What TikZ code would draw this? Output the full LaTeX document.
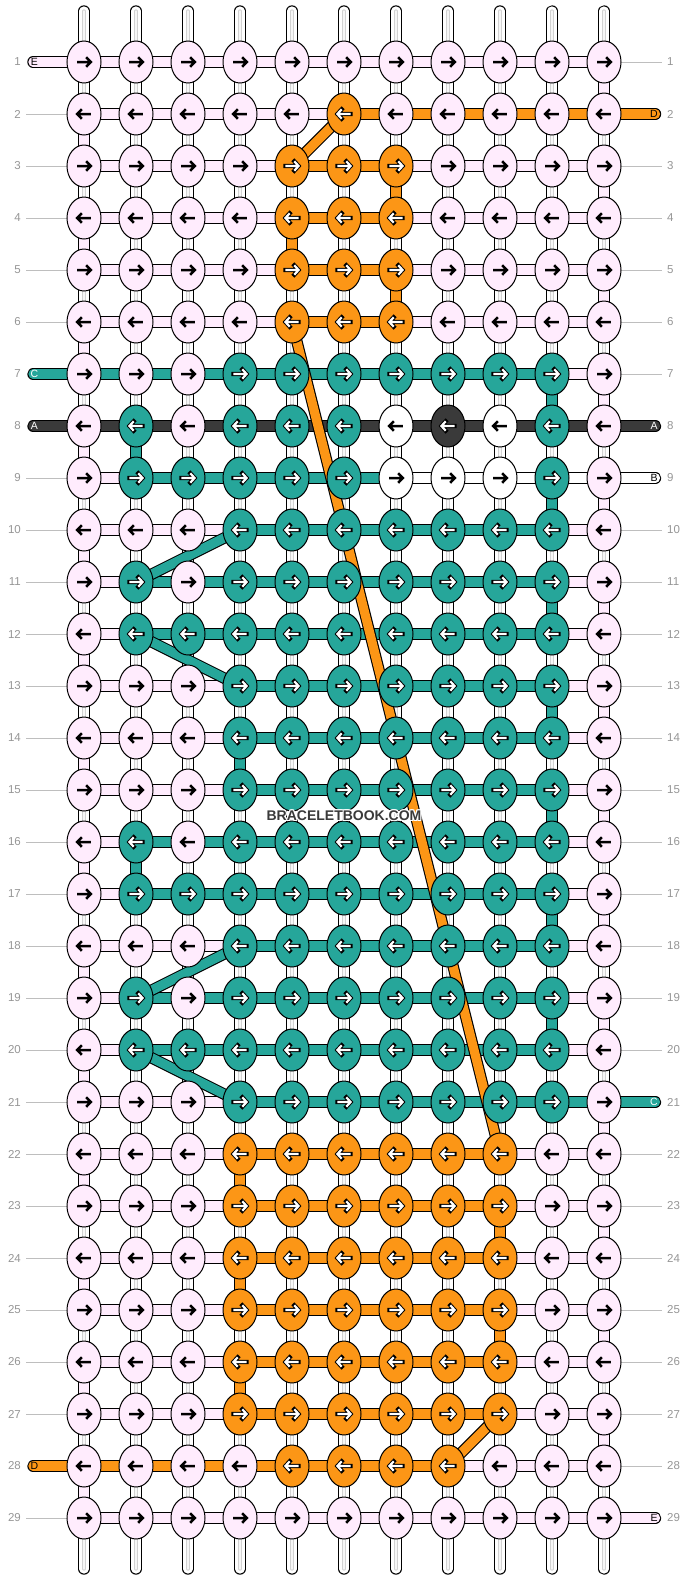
\documentclass[tikz,border=0pt]{standalone}
\usepackage{fontspec}
\setmainfont{Liberation Sans}
\usetikzlibrary{shapes.geometric}
\definecolor{cp}{RGB}{255,236,253}
\definecolor{ct}{RGB}{38,166,154}
\definecolor{co}{RGB}{252,150,22}
\definecolor{ck}{RGB}{58,58,58}
\definecolor{cw}{RGB}{255,255,255}
\definecolor{lbl}{RGB}{150,150,150}
\definecolor{rl}{RGB}{190,190,190}
\pgfdeclarelayer{paper}\pgfdeclarelayer{base}\pgfdeclarelayer{bars}\pgfdeclarelayer{links}
\pgfsetlayers{paper,base,bars,links,main}
\def\atp{0}\def\atw{0}\def\att{1}\def\ato{1}\def\atk{1}
\newcommand\knotarrow[3]{%
 \begin{scope}[shift={(#1.center)}, xscale=#2]
 \ifnum#3=1\relax
  \draw[black, line width=4.2pt, line join=miter, line cap=rect] (-6.6,0) -- (5.5,0) (2.3,-4.7) -- (6.6,0) -- (2.3,4.7);
  \draw[white, line width=2.2pt, line join=miter] (-6.6,0) -- (5.5,0) (2.3,-4.7) -- (6.6,0) -- (2.3,4.7);
 \else
  \draw[black, line width=2.5pt, line join=miter] (-6.8,0) -- (5.5,0) (2.2,-4.8) -- (6.8,0) -- (2.2,4.8);
 \fi
 \end{scope}}
\tikzset{
 knot/.style={ellipse, draw=black, line width=1pt, minimum width=34pt, minimum height=42pt, inner sep=0pt},
 band/.style={draw=black, line width=1.1pt, double=#1, double distance=9.2pt},
 numlab/.style={font=\fontsize{11.5}{12}\selectfont, text=lbl, inner sep=0pt},
 endlab/.style={font=\fontsize{10.5}{11}\selectfont, inner sep=0pt},
 rowline/.style={draw=rl, line width=1pt},
 wm/.style={font=\bfseries\fontsize{14}{14}\selectfont, inner sep=0pt}
}
\begin{document}
\begin{tikzpicture}[x=1pt,y=-1pt]
\useasboundingbox (0,0) rectangle (688,1580);
\begin{pgfonlayer}{paper}
\fill[white] (0,0) rectangle (688,1580);
\end{pgfonlayer}
% base strands
\begin{pgfonlayer}{base}
\foreach \c in {1,...,11} {
 \coordinate (top-\c) at ({84+52*(\c-1)},11);
 \coordinate (bot-\c) at ({84+52*(\c-1)},1569);
 \draw[band=white, line cap=round] (top-\c) -- (bot-\c);
 \draw[gray!35, line width=3.2pt, line cap=round] (top-\c) -- (bot-\c);
 \draw[gray!6, line width=1.3pt, line cap=round] (top-\c) -- (bot-\c);
}
\end{pgfonlayer}
% knots and bars
\foreach \r/\ks/\bs/\zz in {
 1/{p,p,p,p,p,p,p,p,p,p,p}/{p,p,p,p,p,p,p,p,p,p}/x,
 2/{p,p,p,p,p,o,p,p,p,p,p}/{p,p,p,p,p,o,o,o,o,o}/x,
 3/{p,p,p,p,o,o,o,p,p,p,p}/{p,p,p,p,o,o,p,p,p,p}/x,
 4/{p,p,p,p,o,o,o,p,p,p,p}/{p,p,p,p,o,o,p,p,p,p}/x,
 5/{p,p,p,p,o,o,o,p,p,p,p}/{p,p,p,p,o,o,p,p,p,p}/x,
 6/{p,p,p,p,o,o,o,p,p,p,p}/{p,p,p,p,o,o,p,p,p,p}/x,
 7/{p,p,p,t,t,t,t,t,t,t,p}/{t,t,t,t,t,t,t,t,t,p}/x,
 8/{p,t,p,t,t,t,w,k,w,t,p}/{k,k,k,k,k,k,k,k,k,k}/x,
 9/{p,t,t,t,t,t,w,w,w,t,p}/{p,t,t,t,t,t,w,w,w,w}/x,
 10/{p,p,p,t,t,t,t,t,t,t,p}/{p,p,p,t,t,t,t,t,t,p}/x,
 11/{p,t,p,t,t,t,t,t,t,t,p}/{p,t,t,t,t,t,t,t,t,p}/x,
 12/{p,t,t,t,t,t,t,t,t,t,p}/{p,t,t,t,t,t,t,t,t,p}/x,
 13/{p,p,p,t,t,t,t,t,t,t,p}/{p,p,p,t,t,t,t,t,t,p}/x,
 14/{p,p,p,t,t,t,t,t,t,t,p}/{p,p,p,t,t,t,t,t,t,p}/x,
 15/{p,p,p,t,t,t,t,t,t,t,p}/{p,p,p,t,t,t,t,t,t,p}/x,
 16/{p,t,p,t,t,t,t,t,t,t,p}/{p,t,t,t,t,t,t,t,t,p}/x,
 17/{p,t,t,t,t,t,t,t,t,t,p}/{p,t,t,t,t,t,t,t,t,p}/x,
 18/{p,p,p,t,t,t,t,t,t,t,p}/{p,p,p,t,t,t,t,t,t,p}/x,
 19/{p,t,p,t,t,t,t,t,t,t,p}/{p,t,t,t,t,t,t,t,t,p}/x,
 20/{p,t,t,t,t,t,t,t,t,t,p}/{p,t,t,t,t,t,t,t,t,p}/x,
 21/{p,p,p,t,t,t,t,t,t,t,p}/{p,p,p,t,t,t,t,t,t,t}/x,
 22/{p,p,p,o,o,o,o,o,o,p,p}/{p,p,p,o,o,o,o,o,p,p}/x,
 23/{p,p,p,o,o,o,o,o,o,p,p}/{p,p,p,o,o,o,o,o,p,p}/x,
 24/{p,p,p,o,o,o,o,o,o,p,p}/{p,p,p,o,o,o,o,o,p,p}/x,
 25/{p,p,p,o,o,o,o,o,o,p,p}/{p,p,p,o,o,o,o,o,p,p}/x,
 26/{p,p,p,o,o,o,o,o,o,p,p}/{p,p,p,o,o,o,o,o,p,p}/x,
 27/{p,p,p,o,o,o,o,o,o,p,p}/{p,p,p,o,o,o,o,o,p,p}/x,
 28/{p,p,p,p,o,o,o,o,p,p,p}/{o,o,o,o,o,o,o,p,p,p}/x,
 29/{p,p,p,p,p,p,p,p,p,p,p}/{p,p,p,p,p,p,p,p,p,p}/x
}{
 \ifodd\r\def\dir{1}\else\def\dir{-1}\fi
 \foreach \k [count=\c] in \ks {
  \node[knot, fill=c\k] (n-\r-\c) at ({84+52*(\c-1)},{62+52*(\r-1)}) {};
  \knotarrow{n-\r-\c}{\dir}{\csname at\k\endcsname}
 }
 \begin{pgfonlayer}{bars}
 \foreach \b [count=\c] in \bs {
  \pgfmathtruncatemacro\d{\c+1}
  \draw[band=c\b] (n-\r-\c.center) -- (n-\r-\d.center);
 }
 \end{pgfonlayer}
 \node[numlab, anchor=east] (numL-\r) at (21,{62+52*(\r-1)}) {\r};
 \node[numlab, anchor=west] (numR-\r) at (667,{62+52*(\r-1)}) {\r};
}
% row guide lines
\begin{pgfonlayer}{base}
\foreach \r in {2,3,4,5,6,9,10,11,12,13,14,15,16,17,18,19,20,21,22,23,24,25,26,27,29} {
 \coordinate (gL-\r) at (26,{62+52*(\r-1)});
 \draw[rowline] (gL-\r) -- (n-\r-1.center);
}
\foreach \r in {1,3,4,5,6,7,10,11,12,13,14,15,16,17,18,19,20,22,23,24,25,26,27,28} {
 \coordinate (gR-\r) at (662,{62+52*(\r-1)});
 \draw[rowline] (n-\r-11.center) -- (gR-\r);
}
\end{pgfonlayer}
% thread ends
\foreach \r/\col/\lab/\tc in {1/cp/E/black, 7/ct/C/white, 8/ck/A/white, 28/co/D/black} {
 \coordinate (eL-\r) at (33,{62+52*(\r-1)});
 \begin{pgfonlayer}{bars}
 \draw[band=\col, line cap=round] (eL-\r) -- (n-\r-1.center);
 \end{pgfonlayer}
 \node[endlab, text=\tc] (tL-\r) at (34.5,{62+52*(\r-1)}) {\lab};
}
\foreach \r/\col/\lab/\tc in {2/co/D/black, 8/ck/A/white, 9/cw/B/black, 21/ct/C/white, 29/cp/E/black} {
 \coordinate (eR-\r) at (655.5,{62+52*(\r-1)});
 \begin{pgfonlayer}{bars}
 \draw[band=\col, line cap=round] (n-\r-11.center) -- (eR-\r);
 \end{pgfonlayer}
 \node[endlab, text=\tc] (tR-\r) at (654,{62+52*(\r-1)}) {\lab};
}
% vertical and diagonal links
\begin{pgfonlayer}{links}
\foreach \r in {1,...,28} {
 \pgfmathtruncatemacro\s{\r+1}
 \ifodd\r\def\cc{11}\else\def\cc{1}\fi
 \draw[band=cp] (n-\r-\cc.center) -- (n-\s-\cc.center);
}
\foreach \r/\c in {3/7,4/5,5/7,22/4,23/9,24/4,25/9,26/4} {
 \pgfmathtruncatemacro\s{\r+1}
 \draw[band=co] (n-\r-\c.center) -- (n-\s-\c.center);
}
\foreach \r/\c in {7/10,8/2,9/10,11/10,13/10,14/4,15/10,16/2,17/10,19/10} {
 \pgfmathtruncatemacro\s{\r+1}
 \draw[band=ct] (n-\r-\c.center) -- (n-\s-\c.center);
}
\draw[band=co] (n-2-6.center) -- (n-3-5.center);
\draw[band=co] (n-6-5.center) -- (n-22-9.center);
\draw[band=co] (n-27-9.center) -- (n-28-8.center);
\draw[band=ct] (n-10-4.center) -- (n-11-2.center);
\draw[band=ct] (n-12-2.center) -- (n-13-4.center);
\draw[band=ct] (n-18-4.center) -- (n-19-2.center);
\draw[band=ct] (n-20-2.center) -- (n-21-4.center);
\end{pgfonlayer}
% watermark
\foreach \dx/\dy [count=\i] in {-1/-1,0/-1,1/-1,-1/0,1/0,-1/1,0/1,1/1} {
 \node[wm, text=white] (wmh-\i) at (344+\dx,816+\dy) {BRACELETBOOK.COM};
}
\node[wm, text=ck] (wm) at (344,816) {BRACELETBOOK.COM};
\end{tikzpicture}
\end{document}
